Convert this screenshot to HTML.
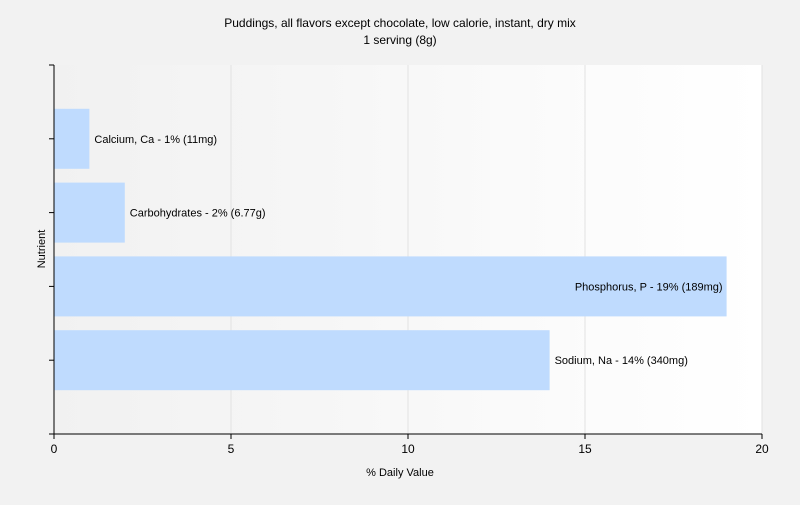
<!DOCTYPE html>
<html><head><meta charset="utf-8"><style>
body{margin:0;background:#f2f2f2;font-family:"Liberation Sans",sans-serif;}
svg text{font-family:"Liberation Sans",sans-serif;}
</style></head><body>
<svg width="800" height="500" xmlns="http://www.w3.org/2000/svg">
<defs><linearGradient id="bg" x1="0" x2="1" y1="0" y2="0"><stop offset="0" stop-color="#f1f1f1"/><stop offset="1" stop-color="#ffffff"/></linearGradient></defs>
<rect x="0" y="0" width="800" height="500" fill="#f2f2f2"/>
<text x="400" y="27" text-anchor="middle" font-size="12" fill="#000">Puddings, all flavors except chocolate, low calorie, instant, dry mix</text>
<text x="400" y="44" text-anchor="middle" font-size="12" fill="#000">1 serving (8g)</text>
<rect x="54" y="65" width="708" height="369" fill="url(#bg)"/>
<g id="grid"></g><g id="bars"></g><g id="axes"></g>
<text x="400" y="476" text-anchor="middle" font-size="11">% Daily Value</text>
<text x="45" y="249" text-anchor="middle" font-size="11" transform="rotate(-90 45 249)">Nutrient</text>
</svg>
<script>
const categories=["Calcium, Ca","Carbohydrates","Phosphorus, P","Sodium, Na"];
const values=[1,2,19,14];
const labels=["Calcium, Ca - 1% (11mg)","Carbohydrates - 2% (6.77g)","Phosphorus, P - 19% (189mg)","Sodium, Na - 14% (340mg)"];
const xTicks=[0,5,10,15,20];
const NS="http://www.w3.org/2000/svg";
const x0=54,x1=762,y0=65,y1=434,xmax=20;
const sx=v=>x0+(x1-x0)*v/xmax;
const band=(y1-y0)/(categories.length+1);
const sy=i=>y0+band*(i+1);
function mk(t,a,p){const e=document.createElementNS(NS,t);for(const k in a)e.setAttribute(k,a[k]);p.appendChild(e);return e;}
const grid=document.getElementById('grid'),bars=document.getElementById('bars'),axes=document.getElementById('axes');
xTicks.forEach(t=>{
 if(t>0){const g=mk('line',{x1:sx(t),x2:sx(t),y1:y0,y2:y1,stroke:'#e2e2e2'},grid);
 
 }
 const tk=mk('line',{x1:sx(t),x2:sx(t),y1:y1,y2:y1+5,stroke:'#000'},axes);
 
 
 const tx=mk('text',{x:sx(t),y:y1+19,'text-anchor':'middle','font-size':12},axes);tx.textContent=t;
 
 
});
categories.forEach((c,i)=>{
 const cy=sy(i),v=values[i];
 const r=mk('rect',{x:x0,y:cy-30,width:sx(v)-x0,height:60,fill:'#bfdbfe'},bars);
 
 
 const t=mk('text',{x:sx(v)+5,y:cy+4,'text-anchor':'start','font-size':11},bars);t.textContent=labels[i];
 
 
 const w=t.getComputedTextLength();
 if(sx(v)+5+w>x1){t.setAttribute('x',sx(v)-4);t.setAttribute('text-anchor','end');}
 const tk=mk('line',{x1:x0-5,x2:x0,y1:cy,y2:cy,stroke:'#000'},axes);
 
 
});
[[x0-5,y0,x0,y0],[x0,y0,x0,y1],[x0-5,y1,x1,y1]].forEach((l,k)=>{
 const e=mk('line',{x1:l[0],y1:l[1],x2:l[2],y2:l[3],stroke:'#000'},axes);
 
 
});
</script>
</body></html>
